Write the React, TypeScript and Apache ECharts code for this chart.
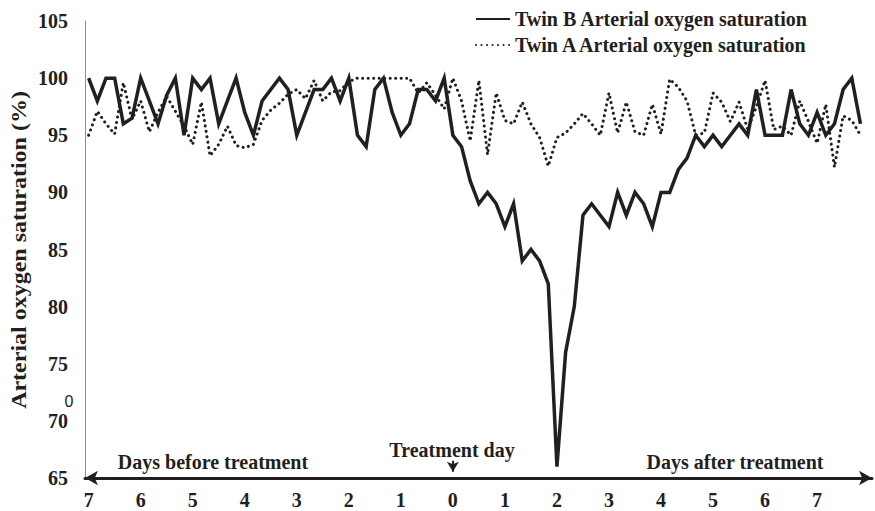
import React, { useEffect, useRef } from "react";
import * as echarts from "echarts";

// ---- data ----
const START_DAY = -7;
const SAMPLES_PER_DAY = 6;
const dayTicks = [-7, -6, -5, -4, -3, -2, -1, 0, 1, 2, 3, 4, 5, 6, 7];
const seriesNames = [
  "Twin B Arterial oxygen saturation",
  "Twin A Arterial oxygen saturation",
];
const twinB = [
  100, 98, 100, 100, 96, 96.5, 100, 98, 96, 98.5,
  100, 95, 100, 99, 100, 96, 98, 100, 97, 95,
  98, 99, 100, 99, 95, 97, 99, 99, 100, 98,
  100, 95, 94, 99, 100, 97, 95, 96, 99, 99,
  98, 100, 95, 94, 91, 89, 90, 89, 87, 89,
  84, 85, 84, 82, 66, 76, 80, 88, 89, 88,
  87, 90, 88, 90, 89, 87, 90, 90, 92, 93,
  95, 94, 95, 94, 95, 96, 95, 99, 95, 95,
  95, 99, 96, 95, 97, 95, 96, 99, 100, 96,
];
const twinA = [
  95, 97.1, 96, 95.1, 99.6, 96.4, 98, 95.3, 97, 98.4,
  97.1, 95.8, 94.2, 97.9, 93.2, 94.2, 95.8, 94.1, 93.9, 94.2,
  96.3, 97.2, 97.8, 98.6, 99, 98.2, 99.8, 98, 98.8, 98.9,
  99.7, 100, 100, 100, 100, 100, 100, 100, 98.7, 99.6,
  98.5, 97.3, 100, 98, 94.5, 99.8, 93.3, 98.7, 96.3, 96,
  97.9, 96, 94.8, 92.3, 94.8, 95.2, 96, 96.9, 96, 95,
  98.7, 95.2, 97.9, 95.3, 95, 97.7, 95.1, 99.9, 99.2, 98,
  95, 95.2, 98.7, 97.9, 96.2, 97.9, 95.5, 97.5, 99.8, 95.5,
  95.8, 95, 98, 96.2, 94.3, 97.7, 92.2, 96.7, 96.3, 95,
];
const Y_MIN = 65;
const Y_MAX = 105;
const Y_STEP = 5;
const TREATMENT_DAY = 0;

const FONT = "'Liberation Serif', 'Times New Roman', serif";
const INK = "#231f20";

const toPoints = (vals: number[]) =>
  vals.map((v, i) => [START_DAY + i / SAMPLES_PER_DAY, v]);

const centered = {
  align: "center",
  verticalAlign: "middle",
  textAlign: "center",
  textVerticalAlign: "middle",
};

export default function App() {
  const ref = useRef<HTMLDivElement>(null);

  useEffect(() => {
    if (!ref.current) return;
    const chart = echarts.init(ref.current, null, { renderer: "svg" });
    const bold = { fontFamily: FONT, fontWeight: "bold" as const, color: INK };

    chart.setOption({
      animation: false,
      backgroundColor: "#ffffff",
      grid: { left: 85, right: 3, top: 21, bottom: 33, containLabel: false },
      legend: {
        orient: "vertical",
        left: 470,
        top: 4,
        itemWidth: 34,
        itemHeight: 14,
        itemGap: 6,
        selectedMode: false,
        data: seriesNames,
        itemStyle: { opacity: 0 },
        textStyle: { ...bold, fontSize: 20 },
      },
      xAxis: {
        type: "value",
        min: -7.07,
        max: 8.055,
        axisLine: {
          show: true,
          onZero: false,
          symbol: ["arrow", "arrow"],
          symbolSize: [11, 13],
          lineStyle: { color: INK, width: 3 },
        },
        axisTick: { show: false },
        splitLine: { show: false },
        axisLabel: {
          customValues: dayTicks,
          formatter: (v: number) => String(Math.abs(Math.round(v))),
          ...bold,
          fontSize: 20,
          margin: 12,
        },
      },
      yAxis: {
        type: "value",
        min: Y_MIN,
        max: Y_MAX,
        interval: Y_STEP,
        axisLine: {
          show: true,
          onZero: false,
          lineStyle: { color: "#8c8c8c", width: 1 },
        },
        axisTick: { show: false },
        splitLine: { show: false },
        axisLabel: { ...bold, fontSize: 20, margin: 17 },
      },
      series: [
        {
          name: seriesNames[0],
          type: "line",
          data: toPoints(twinB),
          symbol: "none",
          showSymbol: false,
          lineStyle: { color: INK, width: 3.5, join: "miter" },
          itemStyle: { color: INK },
          z: 3,
          markLine: {
            silent: true,
            symbol: ["none", "arrow"],
            symbolSize: [9, 10],
            label: { show: false },
            lineStyle: { color: INK, width: 2, type: "solid" },
            data: [[{ coord: [TREATMENT_DAY, 66.5] }, { coord: [TREATMENT_DAY, 65.55] }]],
          },
        },
        {
          name: seriesNames[1],
          type: "line",
          data: toPoints(twinA),
          symbol: "none",
          showSymbol: false,
          lineStyle: { color: INK, width: 3, type: [0.1, 5.4], cap: "round" },
          itemStyle: { color: INK },
          z: 2,
        },
      ],
      graphic: [
        {
          type: "text",
          x: 19,
          y: 250,
          rotation: Math.PI / 2,
          scaleX: 1.2,
          style: {
            text: "Arterial oxygen saturation (%)",
            fontFamily: FONT,
            fontWeight: "bold",
            fontSize: 20,
            fill: INK,
            ...centered,
          },
        },
        {
          type: "text",
          x: 452,
          y: 450,
          style: {
            text: "Treatment day",
            fontFamily: FONT,
            fontWeight: "bold",
            fontSize: 20,
            fill: INK,
            ...centered,
          },
        },
        {
          type: "text",
          x: 213,
          y: 462,
          style: {
            text: "Days before treatment",
            fontFamily: FONT,
            fontWeight: "bold",
            fontSize: 20,
            fill: INK,
            ...centered,
          },
        },
        {
          type: "text",
          x: 735,
          y: 462,
          style: {
            text: "Days after treatment",
            fontFamily: FONT,
            fontWeight: "bold",
            fontSize: 20,
            fill: INK,
            ...centered,
          },
        },
        {
          type: "text",
          x: 69,
          y: 401,
          style: {
            text: "0",
            fontFamily: "'Liberation Sans', Arial, sans-serif",
            fontSize: 16,
            fill: INK,
            ...centered,
          },
        },
      ],
    });

    return () => chart.dispose();
  }, []);

  return (
    <div
      ref={ref}
      style={{ position: "absolute", left: 0, top: 0, width: 875, height: 511 }}
    />
  );
}
